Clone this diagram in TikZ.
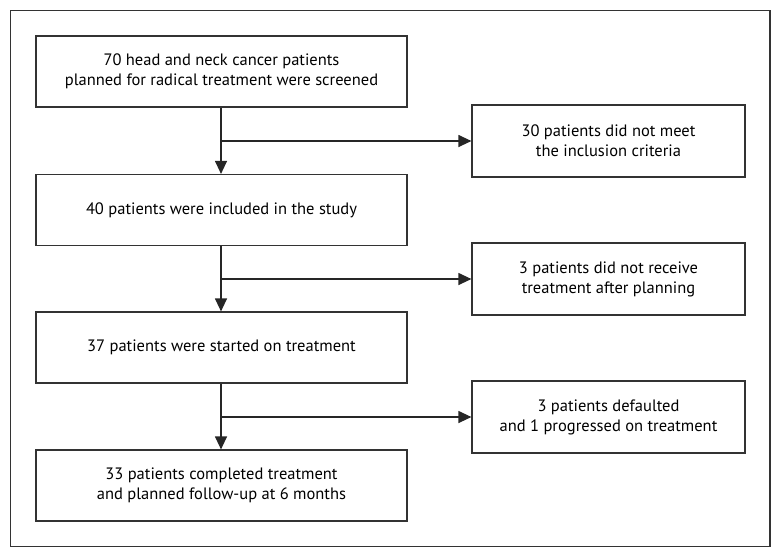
\documentclass[tikz,border=0pt]{standalone}
\usepackage{fontspec}
\setmainfont{PT Sans}
\usetikzlibrary{arrows.meta}
\begin{document}
\begin{tikzpicture}[x=1pt,y=-1pt,
  box/.style={draw=black!80,line width=1.2pt,align=center,font=\fontsize{16.5}{20}\selectfont,inner sep=0pt},
  arr/.style={draw=black!85,line width=1.2pt,-{Triangle[length=13pt,width=12pt]}},
  ln/.style={draw=black!85,line width=1.2pt}]
\useasboundingbox (0,0) rectangle (781,558);
\draw[black!80,line width=1.2pt] (10.5,10.5) rectangle (770,546.5);
% left boxes
\node[box,minimum width=371pt,minimum height=71pt] (b1) at (221.5,71.5) {70 head and neck cancer patients\\planned for radical treatment were screened};
\node[box,minimum width=371pt,minimum height=71pt] (b2) at (221.5,210) {40 patients were included in the study};
\node[box,minimum width=371pt,minimum height=71pt] (b3) at (221.5,347.5) {37 patients were started on treatment};
\node[box,minimum width=371pt,minimum height=71pt] (b4) at (221.5,485.5) {33 patients completed treatment\\and planned follow-up at 6 months};
% right boxes
\node[box,minimum width=273pt,minimum height=72pt] (r1) at (608.5,141) {30 patients did not meet\\the inclusion criteria};
\node[box,minimum width=273pt,minimum height=72pt] (r2) at (608.5,279) {3 patients did not receive\\treatment after planning};
\node[box,minimum width=273pt,minimum height=72pt] (r3) at (608.5,417) {3 patients defaulted\\and 1 progressed on treatment};
% connectors
\coordinate (j1) at (221,141);
\coordinate (j2) at (221,279);
\coordinate (j3) at (221,417);
\draw[arr] (b1.south -| j1) -- (b2.north -| j1);
\draw[arr] (b2.south -| j2) -- (b3.north -| j2);
\draw[arr] (b3.south -| j3) -- (b4.north -| j3);
\draw[arr] (j1) -- (r1.west);
\draw[arr] (j2) -- (r2.west);
\draw[arr] (j3) -- (r3.west);
\end{tikzpicture}
\end{document}
